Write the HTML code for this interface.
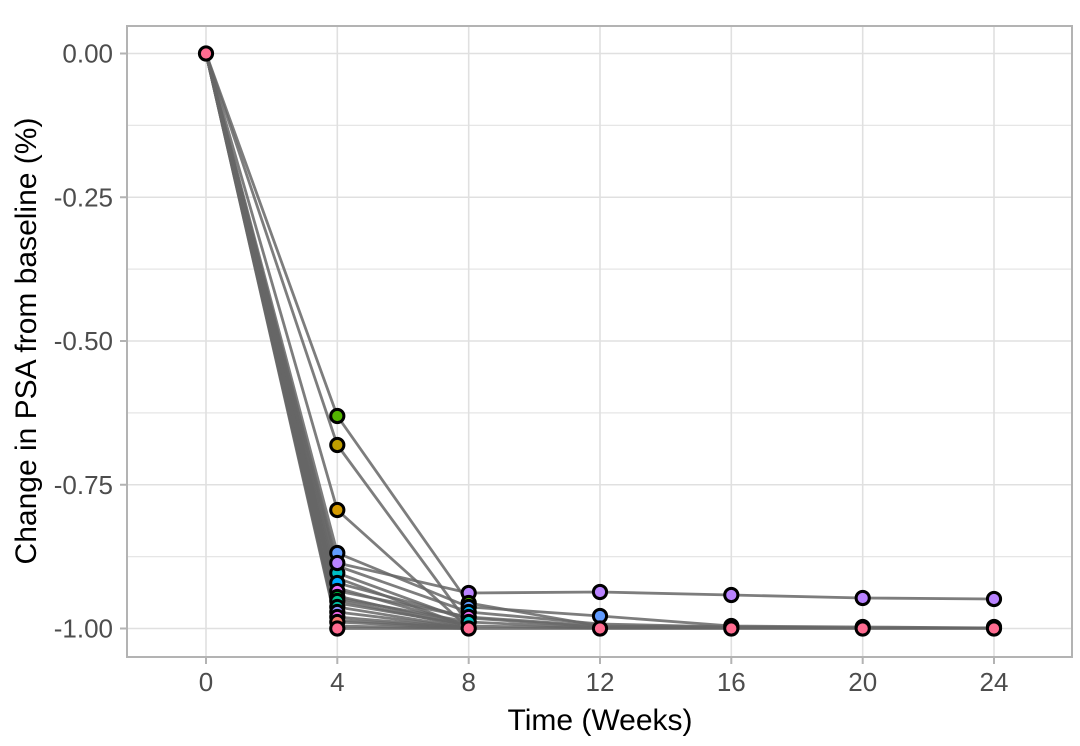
<!DOCTYPE html>
<html><head><meta charset="utf-8"><style>
html,body{margin:0;padding:0;background:#fff;}
svg{display:block;font-family:"Liberation Sans",Arial,sans-serif;}
</style></head><body>
<svg width="1080" height="746" viewBox="0 0 1080 746" xmlns="http://www.w3.org/2000/svg">
<rect width="1080" height="746" fill="#fff"/>
<!-- grid minor -->
<g stroke="#e6e6e6" stroke-width="1.3">
<line x1="127" x2="1072" y1="125.4" y2="125.4"/>
<line x1="127" x2="1072" y1="269.1" y2="269.1"/>
<line x1="127" x2="1072" y1="412.9" y2="412.9"/>
<line x1="127" x2="1072" y1="556.6" y2="556.6"/>
</g>
<!-- grid major -->
<g stroke="#e0e0e0" stroke-width="1.6">
<line x1="127" x2="1072" y1="53.5" y2="53.5"/>
<line x1="127" x2="1072" y1="197.25" y2="197.25"/>
<line x1="127" x2="1072" y1="341" y2="341"/>
<line x1="127" x2="1072" y1="484.75" y2="484.75"/>
<line x1="127" x2="1072" y1="628.5" y2="628.5"/>
<line x1="206" x2="206" y1="26" y2="657"/>
<line x1="337.3" x2="337.3" y1="26" y2="657"/>
<line x1="468.7" x2="468.7" y1="26" y2="657"/>
<line x1="600" x2="600" y1="26" y2="657"/>
<line x1="731.3" x2="731.3" y1="26" y2="657"/>
<line x1="862.7" x2="862.7" y1="26" y2="657"/>
<line x1="994" x2="994" y1="26" y2="657"/>
</g>
<!-- lines -->
<g fill="none" stroke="#666" stroke-opacity="0.85" stroke-width="2.8" stroke-linejoin="round">
<polyline points="206,53.5 337.3,626 468.7,628.5"/>
<polyline points="206,53.5 337.3,622 468.7,628.5"/>
<polyline points="206,53.5 337.3,510 468.7,628"/>
<polyline points="206,53.5 337.3,445 468.7,624"/>
<polyline points="206,53.5 337.3,416 468.7,603 600,626"/>
<polyline points="206,53.5 337.3,600 468.7,627"/>
<polyline points="206,53.5 337.3,596 468.7,626 600,628"/>
<polyline points="206,53.5 337.3,573 468.7,621"/>
<polyline points="206,53.5 337.3,583 468.7,618 600,627 731.3,628 862.7,628 994,628"/>
<polyline points="206,53.5 337.3,603 468.7,625"/>
<polyline points="206,53.5 337.3,553 468.7,607 600,616 731.3,626 862.7,627 994,628"/>
<polyline points="206,53.5 337.3,563 468.7,593 600,592 731.3,595 862.7,598 994,599"/>
<polyline points="206,53.5 337.3,591 468.7,617 600,626 731.3,627 862.7,628 994,628"/>
<polyline points="206,53.5 337.3,607 468.7,628"/>
<polyline points="206,53.5 337.3,617 468.7,628"/>
<polyline points="206,53.5 337.3,588 468.7,625"/>
<polyline points="206,53.5 337.3,612 468.7,628"/>
<polyline points="206,53.5 337.3,620 468.7,628"/>
<polyline points="206,53.5 337.3,578 468.7,627"/>
<polyline points="206,53.5 337.3,598 468.7,622 600,628 731.3,628 862.7,628 994,628"/>
<polyline points="206,53.5 337.3,566 468.7,612 600,624 731.3,627 862.7,628 994,628"/>
<polyline points="206,53.5 337.3,628.5 468.7,628.5 600,628.5 731.3,628.5 862.7,628.5 994,628.5"/>
</g>
<!-- points -->
<g stroke="#000" stroke-width="3">
<circle cx="206" cy="53.5" r="6.6" fill="#FF6C91"/>
<circle cx="337.3" cy="416" r="6.6" fill="#53B400"/>
<circle cx="337.3" cy="445" r="6.6" fill="#BF9E00"/>
<circle cx="337.3" cy="510" r="6.6" fill="#D49A00"/>
<circle cx="337.3" cy="553" r="6.6" fill="#619CFF"/>
<circle cx="337.3" cy="573" r="6.6" fill="#00BFC4"/>
<circle cx="337.3" cy="563" r="6.6" fill="#B983FF"/>
<circle cx="337.3" cy="583" r="6.6" fill="#00A9FF"/>
<circle cx="337.3" cy="591" r="6.6" fill="#E76BF3"/>
<circle cx="337.3" cy="597" r="6.6" fill="#00BA38"/>
<circle cx="337.3" cy="601" r="6.6" fill="#00C08B"/>
<circle cx="337.3" cy="607" r="6.6" fill="#00C1A3"/>
<circle cx="337.3" cy="612" r="6.6" fill="#8F91FF"/>
<circle cx="337.3" cy="617" r="6.6" fill="#F066EA"/>
<circle cx="337.3" cy="622" r="6.6" fill="#F8766D"/>
<circle cx="337.3" cy="628.5" r="6.6" fill="#FF6C91"/>
<circle cx="468.7" cy="593" r="6.6" fill="#B983FF"/>
<circle cx="468.7" cy="603" r="6.6" fill="#53B400"/>
<circle cx="468.7" cy="607" r="6.6" fill="#619CFF"/>
<circle cx="468.7" cy="612" r="6.6" fill="#00B0F6"/>
<circle cx="468.7" cy="617" r="6.6" fill="#E76BF3"/>
<circle cx="468.7" cy="622" r="6.6" fill="#00BFC4"/>
<circle cx="468.7" cy="628.5" r="6.6" fill="#FF6C91"/>
<circle cx="600" cy="592" r="6.6" fill="#B983FF"/>
<circle cx="600" cy="616" r="6.6" fill="#619CFF"/>
<circle cx="600" cy="628.5" r="6.6" fill="#FF6C91"/>
<circle cx="731.3" cy="595" r="6.6" fill="#B983FF"/>
<circle cx="731.3" cy="626" r="6.6" fill="#619CFF"/>
<circle cx="731.3" cy="628.5" r="6.6" fill="#FF6C91"/>
<circle cx="862.7" cy="598" r="6.6" fill="#B983FF"/>
<circle cx="862.7" cy="627" r="6.6" fill="#619CFF"/>
<circle cx="862.7" cy="628.5" r="6.6" fill="#FF6C91"/>
<circle cx="994" cy="599" r="6.6" fill="#B983FF"/>
<circle cx="994" cy="627" r="6.6" fill="#619CFF"/>
<circle cx="994" cy="628.5" r="6.6" fill="#FF6C91"/>
</g>
<!-- panel border -->
<rect x="127" y="26" width="945" height="631" fill="none" stroke="#b3b3b3" stroke-width="2"/>
<!-- ticks -->
<g stroke="#b3b3b3" stroke-width="2">
<line x1="120" x2="127" y1="53.5" y2="53.5"/>
<line x1="120" x2="127" y1="197.25" y2="197.25"/>
<line x1="120" x2="127" y1="341" y2="341"/>
<line x1="120" x2="127" y1="484.75" y2="484.75"/>
<line x1="120" x2="127" y1="628.5" y2="628.5"/>
<line x1="206" x2="206" y1="657" y2="664"/>
<line x1="337.3" x2="337.3" y1="657" y2="664"/>
<line x1="468.7" x2="468.7" y1="657" y2="664"/>
<line x1="600" x2="600" y1="657" y2="664"/>
<line x1="731.3" x2="731.3" y1="657" y2="664"/>
<line x1="862.7" x2="862.7" y1="657" y2="664"/>
<line x1="994" x2="994" y1="657" y2="664"/>
</g>
<!-- tick labels -->
<g fill="#4d4d4d" font-size="26" text-anchor="end">
<text x="113" y="62.5">0.00</text>
<text x="113" y="206.25">-0.25</text>
<text x="113" y="350">-0.50</text>
<text x="113" y="493.75">-0.75</text>
<text x="113" y="637.5">-1.00</text>
</g>
<g fill="#4d4d4d" font-size="26" text-anchor="middle">
<text x="206" y="691">0</text>
<text x="337.3" y="691">4</text>
<text x="468.7" y="691">8</text>
<text x="600" y="691">12</text>
<text x="731.3" y="691">16</text>
<text x="862.7" y="691">20</text>
<text x="994" y="691">24</text>
</g>
<!-- axis titles -->
<text x="600" y="730" font-size="30" text-anchor="middle" fill="#000">Time (Weeks)</text>
<text transform="translate(36,341) rotate(-90)" font-size="30" text-anchor="middle" fill="#000">Change in PSA from baseline (%)</text>
</svg>
</body></html>
